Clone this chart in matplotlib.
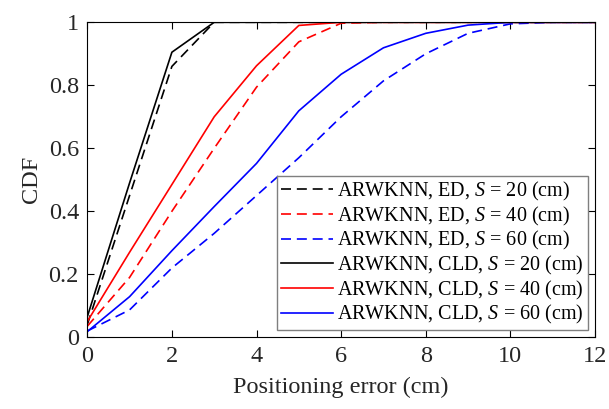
import matplotlib
matplotlib.use("Agg")
from matplotlib import pyplot as plt

plt.rcParams['font.family'] = ['Liberation Serif', 'DejaVu Serif']
plt.rcParams['mathtext.fontset'] = 'custom'
plt.rcParams['mathtext.it'] = 'Liberation Serif:italic'
plt.rcParams['mathtext.rm'] = 'Liberation Serif'

err = [0, 1, 2, 3, 4, 5, 6, 7, 8, 9, 10, 11, 12]

# ED distance
ed_20 = [0.04, 0.45, 0.86, 1.0, 1.0, 1.0, 1.0, 1.0, 1.0, 1.0, 1.0, 1.0, 1.0]
ed_40 = [0.035, 0.19, 0.40, 0.60, 0.794, 0.938, 0.997, 1.0, 1.0, 1.0, 1.0, 1.0, 1.0]
ed_60 = [0.02, 0.087, 0.22, 0.33, 0.45, 0.57, 0.70, 0.814, 0.90, 0.965, 0.995, 1.0, 1.0]

# CLD distance
cld_20 = [0.065, 0.49, 0.905, 1.0, 1.0, 1.0, 1.0, 1.0, 1.0, 1.0, 1.0, 1.0, 1.0]
cld_40 = [0.05, 0.27, 0.485, 0.70, 0.862, 0.99, 1.0, 1.0, 1.0, 1.0, 1.0, 1.0, 1.0]
cld_60 = [0.018, 0.129, 0.275, 0.415, 0.552, 0.719, 0.835, 0.919, 0.965, 0.991, 1.0, 1.0, 1.0]

fig = plt.figure(figsize=(6.09, 4.09), dpi=100)
ax = fig.add_axes([0.1433, 0.1753, 0.977 - 0.1433, 0.9455 - 0.1753])

lw = 1.2
dash = (0, (6, 3.5))
ax.plot(err, ed_20, color='k', ls=dash, lw=lw, label=r'ARWKNN, ED, $S$ = 20 (cm)')
ax.plot(err, ed_40, color='r', ls=dash, lw=lw, label=r'ARWKNN, ED, $S$ = 40 (cm)')
ax.plot(err, ed_60, color='b', ls=dash, lw=lw, label=r'ARWKNN, ED, $S$ = 60 (cm)')
ax.plot(err, cld_20, color='k', lw=lw, label=r'ARWKNN, CLD, $S$ = 20 (cm)')
ax.plot(err, cld_40, color='r', lw=lw, label=r'ARWKNN, CLD, $S$ = 40 (cm)')
ax.plot(err, cld_60, color='b', lw=lw, label=r'ARWKNN, CLD, $S$ = 60 (cm)')

ax.set_xlim(0, 12)
ax.set_ylim(0, 1)
ax.set_xticks([0, 2, 4, 6, 8, 10, 12])
ax.set_yticks([0, 0.2, 0.4, 0.6, 0.8, 1])
ax.set_yticklabels(['0', '0.2', '0.4', '0.6', '0.8', '1'])
ax.tick_params(direction='in', top=True, right=True, length=5, width=0.8,
               labelsize=17.5, labelcolor='#262626', pad=6)
for sp in ax.spines.values():
    sp.set_linewidth(0.8)

ax.set_xlabel('Positioning error (cm)', fontsize=17.5, color='#262626', labelpad=7)
ax.set_ylabel('CDF', fontsize=17.5, color='#262626', labelpad=5)

leg = ax.legend(loc='lower right', fontsize=14.5, frameon=True, fancybox=False,
                handlelength=2.6, handletextpad=0.2, borderpad=0.2,
                labelspacing=0.08, borderaxespad=0.35)
leg.get_frame().set_edgecolor('#7f7f7f')
leg.get_frame().set_linewidth(1.0)
leg.get_frame().set_alpha(1)

fig.savefig('out.png', dpi=100)
